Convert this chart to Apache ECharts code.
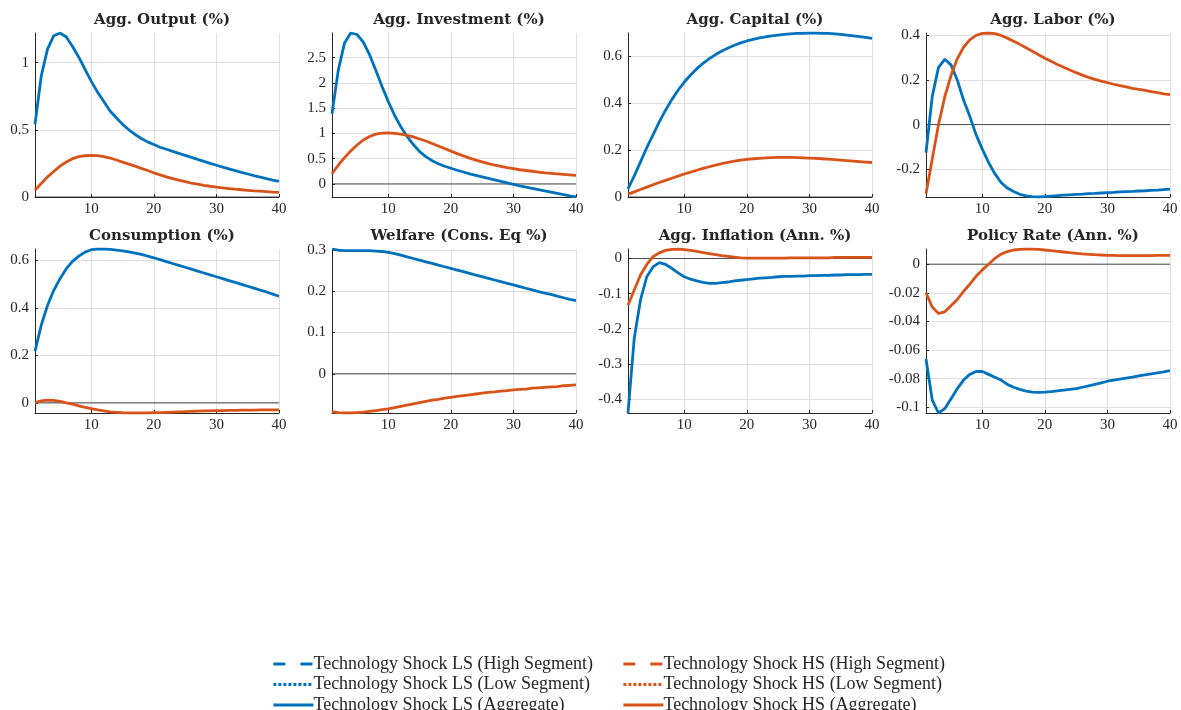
<!DOCTYPE html>
<html>
<head>
<meta charset="utf-8">
<script src="https://cdn.jsdelivr.net/npm/echarts@6/dist/echarts.min.js"></script>
<style>
  html, body { margin: 0; padding: 0; background: #fff; }
  #chart { width: 1181px; height: 710px; }
</style>
</head>
<body>
<div id="chart"></div>
<script>
// horizon (quarters)
const periods = [1, 2, 3, 4, 5, 6, 7, 8, 9, 10, 11, 12, 13, 14, 15, 16, 17, 18, 19, 20,
  21, 22, 23, 24, 25, 26, 27, 28, 29, 30, 31, 32, 33, 34, 35, 36, 37, 38, 39, 40]

// LS = blue, HS = orange (aggregate responses)
const outputLS = [0.54, 0.90, 1.10, 1.20, 1.22, 1.19, 1.12, 1.04, 0.95, 0.86, 0.78, 0.71, 0.64, 0.59, 0.54, 0.50, 0.465, 0.435, 0.41, 0.39,
  0.37, 0.355, 0.34, 0.325, 0.31, 0.295, 0.28, 0.265, 0.25, 0.236, 0.222, 0.209, 0.196, 0.183, 0.171, 0.159, 0.148, 0.137, 0.126, 0.116]
const outputHS = [0.05, 0.10, 0.15, 0.19, 0.23, 0.26, 0.285, 0.30, 0.307, 0.31, 0.308, 0.30, 0.29, 0.275, 0.26, 0.245, 0.23, 0.213, 0.197, 0.18,
  0.165, 0.15, 0.137, 0.125, 0.114, 0.104, 0.095, 0.087, 0.08, 0.074, 0.068, 0.063, 0.058, 0.054, 0.05, 0.046, 0.043, 0.04, 0.037, 0.035]

const investLS = [1.39, 2.25, 2.79, 2.99, 2.96, 2.81, 2.56, 2.25, 1.93, 1.63, 1.36, 1.13, 0.94, 0.78, 0.64, 0.54, 0.46, 0.40, 0.35, 0.31,
  0.27, 0.235, 0.20, 0.17, 0.14, 0.11, 0.08, 0.05, 0.02, -0.01, -0.04, -0.065, -0.09, -0.115, -0.14, -0.165, -0.19, -0.215, -0.24, -0.26]
const investHS = [0.20, 0.37, 0.52, 0.65, 0.77, 0.87, 0.94, 0.985, 1.005, 1.01, 1.0, 0.985, 0.96, 0.93, 0.89, 0.85, 0.80, 0.75, 0.70, 0.65,
  0.60, 0.555, 0.51, 0.47, 0.435, 0.40, 0.37, 0.345, 0.32, 0.30, 0.28, 0.265, 0.25, 0.235, 0.22, 0.21, 0.20, 0.19, 0.18, 0.17]

const capitalLS = [0.035, 0.09, 0.15, 0.21, 0.265, 0.32, 0.37, 0.415, 0.455, 0.49, 0.52, 0.547, 0.57, 0.59, 0.607, 0.622, 0.635, 0.647, 0.657, 0.665,
  0.672, 0.678, 0.683, 0.687, 0.69, 0.693, 0.695, 0.697, 0.698, 0.699, 0.699, 0.698, 0.697, 0.695, 0.693, 0.69, 0.687, 0.684, 0.68, 0.676]
const capitalHS = [0.012, 0.022, 0.032, 0.042, 0.052, 0.062, 0.071, 0.08, 0.089, 0.098, 0.106, 0.114, 0.122, 0.129, 0.136, 0.142, 0.148, 0.153, 0.157, 0.16,
  0.163, 0.165, 0.167, 0.168, 0.169, 0.169, 0.169, 0.168, 0.167, 0.166, 0.165, 0.163, 0.161, 0.159, 0.157, 0.155, 0.153, 0.151, 0.149, 0.147]

const laborLS = [-0.126, 0.126, 0.257, 0.293, 0.268, 0.20, 0.11, 0.037, -0.045, -0.11, -0.17, -0.22, -0.26, -0.285, -0.30, -0.313, -0.32, -0.323, -0.325, -0.323,
  -0.321, -0.319, -0.317, -0.315, -0.313, -0.312, -0.31, -0.309, -0.307, -0.305, -0.304, -0.302, -0.301, -0.3, -0.298, -0.297, -0.295, -0.294, -0.292, -0.29]
const laborHS = [-0.31, -0.155, 0.0, 0.125, 0.22, 0.295, 0.347, 0.38, 0.40, 0.409, 0.411, 0.408, 0.40, 0.388, 0.374, 0.36, 0.345, 0.329, 0.313, 0.298,
  0.284, 0.27, 0.257, 0.245, 0.233, 0.222, 0.212, 0.203, 0.195, 0.188, 0.181, 0.175, 0.169, 0.163, 0.158, 0.153, 0.148, 0.143, 0.138, 0.134]

const consLS = [0.217, 0.327, 0.41, 0.474, 0.523, 0.565, 0.596, 0.618, 0.635, 0.645, 0.648, 0.648, 0.646, 0.643, 0.64, 0.636, 0.631, 0.625, 0.618, 0.611,
  0.603, 0.595, 0.587, 0.579, 0.571, 0.563, 0.555, 0.547, 0.539, 0.531, 0.523, 0.515, 0.507, 0.499, 0.491, 0.483, 0.475, 0.467, 0.458, 0.449]
const consHS = [0.001, 0.008, 0.011, 0.01, 0.006, 0.0, -0.006, -0.013, -0.019, -0.025, -0.03, -0.034, -0.038, -0.04, -0.042, -0.043, -0.043, -0.043, -0.043, -0.042,
  -0.041, -0.04, -0.039, -0.038, -0.037, -0.036, -0.035, -0.034, -0.034, -0.033, -0.033, -0.032, -0.032, -0.031, -0.031, -0.031, -0.03, -0.03, -0.03, -0.03]

const welfareLS = [0.302, 0.299, 0.298, 0.298, 0.298, 0.298, 0.298, 0.297, 0.296, 0.294, 0.291, 0.287, 0.283, 0.279, 0.275, 0.271, 0.267, 0.263, 0.259, 0.255,
  0.251, 0.247, 0.243, 0.239, 0.235, 0.231, 0.227, 0.223, 0.219, 0.215, 0.211, 0.207, 0.203, 0.199, 0.195, 0.192, 0.188, 0.184, 0.18, 0.177]
const welfareHS = [-0.092, -0.094, -0.095, -0.095, -0.094, -0.093, -0.091, -0.089, -0.087, -0.085, -0.082, -0.079, -0.076, -0.073, -0.07, -0.067, -0.064, -0.062, -0.059, -0.057,
  -0.055, -0.053, -0.051, -0.049, -0.047, -0.045, -0.044, -0.042, -0.041, -0.039, -0.038, -0.037, -0.035, -0.034, -0.033, -0.032, -0.031, -0.029, -0.028, -0.027]

const inflLS = [-0.44, -0.227, -0.118, -0.052, -0.024, -0.012, -0.017, -0.028, -0.041, -0.052, -0.059, -0.064, -0.068, -0.071, -0.071, -0.069, -0.067, -0.064, -0.062, -0.06,
  -0.058, -0.056, -0.055, -0.054, -0.052, -0.051, -0.051, -0.05, -0.05, -0.049, -0.049, -0.048, -0.048, -0.047, -0.047, -0.046, -0.046, -0.046, -0.045, -0.045]
const inflHS = [-0.133, -0.09, -0.047, -0.017, 0.005, 0.016, 0.023, 0.026, 0.027, 0.025, 0.023, 0.02, 0.017, 0.014, 0.011, 0.008, 0.006, 0.004, 0.002, 0.001,
  0.001, 0.001, 0.001, 0.001, 0.001, 0.001, 0.002, 0.002, 0.002, 0.002, 0.002, 0.002, 0.002, 0.003, 0.003, 0.003, 0.003, 0.003, 0.003, 0.003]

const rateLS = [-0.0663, -0.095, -0.104, -0.101, -0.094, -0.087, -0.081, -0.077, -0.075, -0.075, -0.077, -0.079, -0.081, -0.084, -0.086, -0.0875, -0.0887, -0.0894, -0.0896, -0.0894,
  -0.089, -0.0885, -0.088, -0.0875, -0.087, -0.086, -0.085, -0.084, -0.083, -0.0818, -0.081, -0.0803, -0.0796, -0.0789, -0.078, -0.0773, -0.0766, -0.0759, -0.0752, -0.0744]
const rateHS = [-0.02, -0.030, -0.0344, -0.0333, -0.029, -0.0247, -0.019, -0.014, -0.0085, -0.004, 0.0, 0.004, 0.007, 0.0088, 0.0099, 0.0104, 0.0106, 0.0106, 0.0104, 0.0099,
  0.0095, 0.009, 0.0085, 0.008, 0.0076, 0.0072, 0.0069, 0.0066, 0.0064, 0.0062, 0.0061, 0.006, 0.006, 0.006, 0.006, 0.006, 0.006, 0.0061, 0.0061, 0.0062]

const titles = ['Agg. Output (%)', 'Agg. Investment (%)', 'Agg. Capital (%)', 'Agg. Labor (%)',
  'Consumption (%)', 'Welfare (Cons. Eq %)', 'Agg. Inflation (Ann. %)', 'Policy Rate (Ann. %)']
const lsSeries = [outputLS, investLS, capitalLS, laborLS, consLS, welfareLS, inflLS, rateLS]
const hsSeries = [outputHS, investHS, capitalHS, laborHS, consHS, welfareHS, inflHS, rateHS]
const yTicks = [
  [0, 0.5, 1],
  [0, 0.5, 1, 1.5, 2, 2.5],
  [0, 0.2, 0.4, 0.6],
  [-0.2, 0, 0.2, 0.4],
  [0, 0.2, 0.4, 0.6],
  [0, 0.1, 0.2, 0.3],
  [-0.4, -0.3, -0.2, -0.1, 0],
  [-0.1, -0.08, -0.06, -0.04, -0.02, 0],
]
const xTicks = [10, 20, 30, 40]

const legendNames = [
  'Technology Shock LS (High Segment)', 'Technology Shock LS (Low Segment)', 'Technology Shock LS (Aggregate)',
  'Technology Shock HS (High Segment)', 'Technology Shock HS (Low Segment)', 'Technology Shock HS (Aggregate)',
]

const BLUE = '#0072BD'
const ORANGE = '#D95319'
const INK = '#262626'
const FONT = 'Liberation Serif'
const TITLE_FONT = 'DejaVu Serif'
const LW = 2.8

// panel boxes [left, top]
const colLeft = [35, 332, 628, 926]
const rowTop = [33, 249]
const W = 244
const H = 164

const grid = []
const xAxis = []
const yAxis = []
const series = []
const title = []

titles.forEach((t, i) => {
  const left = colLeft[i % 4]
  const top = rowTop[Math.floor(i / 4)]
  const ls = lsSeries[i]
  const hs = hsSeries[i]
  const all = ls.concat(hs, [0])
  const ymin = Math.min(...all)
  const ymax = Math.max(...all)

  grid.push({ left, top, width: W, height: H })
  title.push({
    text: t,
    left: left + W / 2,
    top: top - 25,
    textAlign: 'center',
    textStyle: { fontFamily: TITLE_FONT, fontWeight: 'bold', fontSize: 15, color: INK },
  })
  xAxis.push({
    type: 'value', gridIndex: i, min: 1, max: 40,
    axisLine: { show: true, onZero: false, lineStyle: { color: INK, width: 1 } },
    axisTick: { show: true, inside: true, length: 3, customValues: xTicks, lineStyle: { color: INK } },
    axisLabel: { customValues: xTicks, fontFamily: FONT, fontSize: 15, color: INK, margin: 5 },
    splitLine: { show: true, lineStyle: { color: '#dedede', width: 1 } },
  })
  yAxis.push({
    type: 'value', gridIndex: i, min: ymin, max: ymax,
    axisLine: { show: true, onZero: false, lineStyle: { color: INK, width: 1 } },
    axisTick: { show: true, inside: true, length: 3, customValues: yTicks[i], lineStyle: { color: INK } },
    axisLabel: { customValues: yTicks[i], fontFamily: FONT, fontSize: 15, color: INK, margin: 6 },
    splitLine: { show: true, lineStyle: { color: '#dedede', width: 1 } },
  })
  // zero line
  series.push({
    type: 'line', xAxisIndex: i, yAxisIndex: i, silent: true, symbol: 'none', z: 1,
    lineStyle: { color: INK, width: 0.8 },
    data: [[1, 0], [40, 0]],
  })
  series.push({
    name: legendNames[2], type: 'line', xAxisIndex: i, yAxisIndex: i, symbol: 'none', z: 3,
    lineStyle: { color: BLUE, width: LW }, itemStyle: { color: BLUE },
    data: periods.map((p, k) => [p, ls[k]]),
  })
  series.push({
    name: legendNames[5], type: 'line', xAxisIndex: i, yAxisIndex: i, symbol: 'none', z: 4,
    lineStyle: { color: ORANGE, width: LW }, itemStyle: { color: ORANGE },
    data: periods.map((p, k) => [p, hs[k]]),
  })
})

// segment series appear only in the legend (no data plotted)
const segStyles = [
  [legendNames[0], BLUE, [12, 15]], [legendNames[1], BLUE, [3, 2]],
  [legendNames[3], ORANGE, [12, 15]], [legendNames[4], ORANGE, [3, 2]],
]
segStyles.forEach(([name, color, dash]) => {
  series.push({
    name, type: 'line', xAxisIndex: 0, yAxisIndex: 0, symbol: 'none',
    lineStyle: { color, width: LW, type: dash }, itemStyle: { color },
    data: [],
  })
})

const legendBase = {
  orient: 'vertical', top: 650, height: 120, itemWidth: 40, itemHeight: 10, itemGap: 2.5,
  itemStyle: { opacity: 0 },
  lineStyle: { width: LW },
  textStyle: { fontFamily: FONT, fontSize: 18, lineHeight: 18, color: INK, padding: [0, 0, 0, -5] },
  selectedMode: false,
}

const chart = echarts.init(document.getElementById('chart'))
chart.setOption({
  animation: false,
  backgroundColor: '#fff',
  title,
  grid,
  xAxis,
  yAxis,
  series,
  legend: [
    Object.assign({}, legendBase, { left: 267, data: legendNames.slice(0, 3) }),
    Object.assign({}, legendBase, { left: 617, data: legendNames.slice(3) }),
  ],
})
</script>
</body>
</html>
